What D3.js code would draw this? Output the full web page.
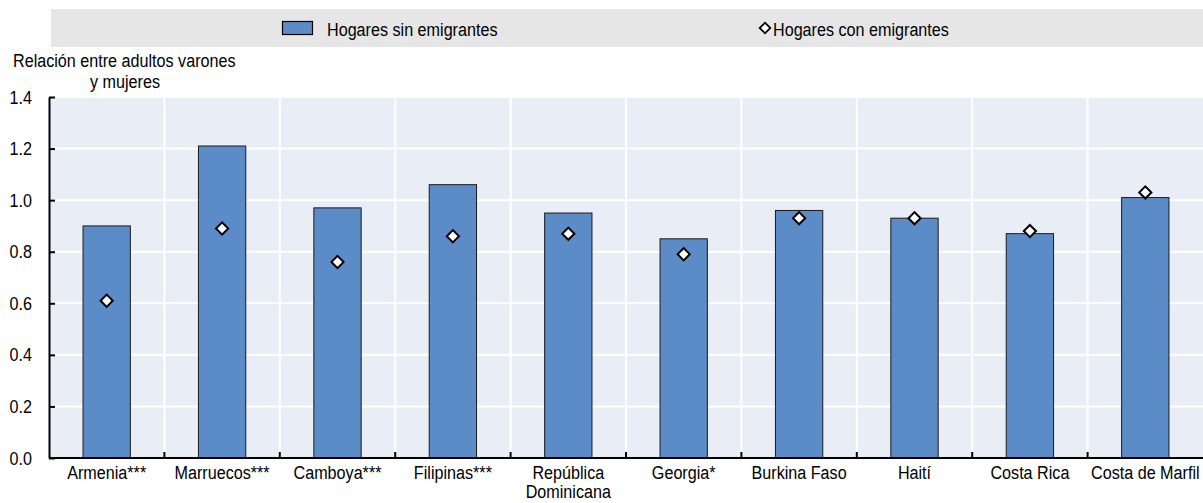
<!DOCTYPE html>
<html><head><meta charset="utf-8">
<script src="https://cdn.jsdelivr.net/npm/d3@7"></script>
<style>
body{margin:0;background:#fff;}
text{font-family:"Liberation Sans",Arial,sans-serif;fill:#000;}
</style></head>
<body><svg id="c" width="1203" height="503"></svg>
<script>
const categories = ["Armenia***","Marruecos***","Camboya***","Filipinas***","República Dominicana","Georgia*","Burkina Faso","Haití","Costa Rica","Costa de Marfil"];
const sinEmigrantes = [0.90,1.21,0.97,1.06,0.95,0.85,0.96,0.93,0.87,1.01];
const conEmigrantes = [0.61,0.89,0.76,0.86,0.87,0.79,0.93,0.93,0.88,1.03];
const yTicks = [0,0.2,0.4,0.6,0.8,1.0,1.2,1.4];
const seriesNames = ["Hogares sin emigrantes","Hogares con emigrantes"];

const SX = 0.85, FS = 19;
const svg = d3.select("#c");
const m = {l:49, r:1203, t:97, b:458};
const x = d3.scaleBand().domain(categories).range([m.l, m.r]).paddingInner(0).paddingOuter(0);
const y = d3.scaleLinear().domain([0,1.4]).range([m.b, m.t]);

function label(px, py, str, anchor){
  return svg.append("text").attr("transform",`translate(${px},${py}) scale(${SX},1)`)
    .attr("font-size",FS).attr("text-anchor",anchor||"start").text(str);
}
const diamond = (s)=>d3.symbol(d3.symbolSquare, s)();

// legend band
svg.append("rect").attr("x",51).attr("y",9).attr("width",1152).attr("height",38).attr("fill","#e6e6e6");
svg.append("rect").attr("x",282.5).attr("y",21.5).attr("width",30).attr("height",13).attr("fill","#5b8cc7").attr("stroke","#000").attr("stroke-width",1.2);
label(327,35.5,seriesNames[0]);
svg.append("path").attr("d",diamond(56)).attr("transform","translate(765,28) rotate(45)").attr("fill","#fff").attr("stroke","#000").attr("stroke-width",1.8);
label(773,35.5,seriesNames[1]);

// plot bg
svg.append("rect").attr("x",m.l).attr("y",m.t).attr("width",m.r-m.l).attr("height",m.b-m.t).attr("fill","#e9edf6");
// horizontal grid
svg.append("g").selectAll("line").data(yTicks.slice(1)).join("line")
  .attr("x1",m.l).attr("x2",m.r).attr("y1",d=>y(d)).attr("y2",d=>y(d)).attr("stroke","#fff").attr("stroke-width",2);
// vertical grid
svg.append("g").selectAll("line").data(categories.slice(1)).join("line")
  .attr("x1",d=>x(d)).attr("x2",d=>x(d)).attr("y1",m.t).attr("y2",m.b).attr("stroke","#fff").attr("stroke-width",2);

// bars
const bw = x.bandwidth()*0.41;
svg.append("g").selectAll("rect").data(categories).join("rect")
  .attr("x",(d)=>x(d)+x.bandwidth()/2-bw/2).attr("width",bw)
  .attr("y",(d,i)=>y(sinEmigrantes[i])).attr("height",(d,i)=>y(0)-y(sinEmigrantes[i]))
  .attr("fill","#5b8cc7").attr("stroke","#1a1a1a").attr("stroke-width",1);

// diamonds
svg.append("g").selectAll("path").data(categories).join("path")
  .attr("d",diamond(74))
  .attr("transform",(d,i)=>`translate(${x(d)+x.bandwidth()/2},${y(conEmigrantes[i])}) rotate(45)`)
  .attr("fill","#fff").attr("stroke","#000").attr("stroke-width",2);

// y axis
const ya = svg.append("g").attr("transform",`translate(${m.l},0)`)
  .call(d3.axisLeft(y).tickValues(yTicks).tickFormat(d3.format(".1f")).tickSizeInner(-6).tickSizeOuter(0).tickPadding(17));
ya.select(".domain").attr("stroke","#000").attr("stroke-width",2);
ya.selectAll(".tick line").attr("stroke","#000").attr("stroke-width",2);
ya.selectAll("text").attr("font-size",FS).attr("font-family",null).attr("fill","#000")
  .attr("x",-17/SX).attr("transform",`scale(${SX},1)`);

// x axis
const xa = svg.append("g").attr("transform",`translate(0,${m.b})`)
  .call(d3.axisBottom(x).tickSize(0).tickPadding(8));
xa.select(".domain").attr("stroke","#000").attr("stroke-width",2).attr("d",`M${m.l},0H${m.r}`);
xa.selectAll("text").attr("font-size",FS).attr("font-family",null).attr("fill","#000").attr("transform",`scale(${SX},1)`);
xa.selectAll(".tick text").each(function(d){
  const t = d3.select(this);
  if(d==="República Dominicana"){
    t.text(null);
    t.append("tspan").attr("x",0).attr("dy","0.71em").text("República");
    t.append("tspan").attr("x",0).attr("dy","0.98em").text("Dominicana");
    t.attr("dy",null);
  }
});
// x boundary ticks
svg.append("g").selectAll("line").data(categories.slice(1)).join("line")
  .attr("x1",d=>x(d)).attr("x2",d=>x(d)).attr("y1",m.b).attr("y2",m.b-6).attr("stroke","#000").attr("stroke-width",2);

// y title
label(13,67,"Relación entre adultos varones");
label(90,88,"y mujeres");
</script></body></html>
